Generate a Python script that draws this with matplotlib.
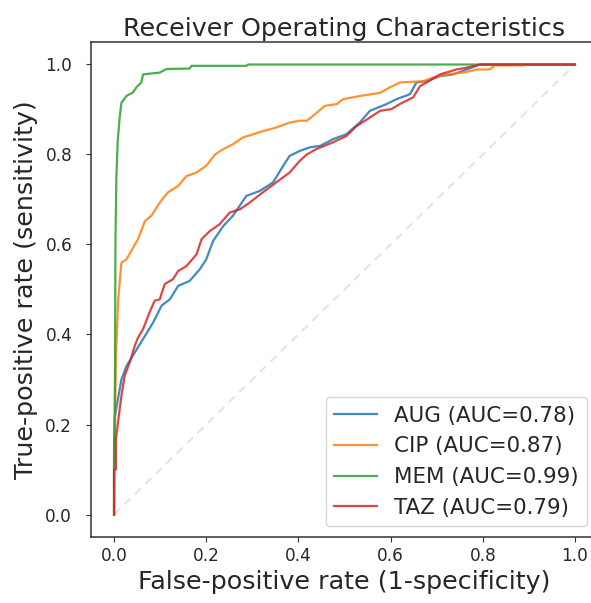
import matplotlib
matplotlib.use('Agg')
import matplotlib.pyplot as plt

# ROC points (false-positive rate, true-positive rate)
aug_fpr = [0.0, 0.0, 0.002, 0.016, 0.027, 0.045, 0.063, 0.085, 0.103, 0.121, 0.139, 0.164,
           0.186, 0.2, 0.215, 0.237, 0.258, 0.287, 0.316, 0.345, 0.367, 0.381, 0.403, 0.425,
           0.447, 0.475, 0.504, 0.533, 0.555, 0.591, 0.613, 0.642, 0.656, 0.678, 0.707, 0.736,
           0.765, 0.794, 1.0]
aug_tpr = [0.0, 0.15, 0.219, 0.30, 0.33, 0.36, 0.39, 0.427, 0.464, 0.478, 0.508, 0.519,
           0.545, 0.567, 0.608, 0.641, 0.664, 0.708, 0.719, 0.738, 0.775, 0.797, 0.808, 0.816,
           0.819, 0.834, 0.845, 0.871, 0.897, 0.912, 0.923, 0.934, 0.96, 0.963, 0.974, 0.978,
           0.989, 1.0, 1.0]

cip_fpr = [0.0, 0.002, 0.004, 0.005, 0.009, 0.016, 0.027, 0.052, 0.067, 0.081, 0.099, 0.117,
           0.139, 0.157, 0.179, 0.2, 0.219, 0.237, 0.258, 0.28, 0.302, 0.323, 0.352, 0.381,
           0.403, 0.418, 0.432, 0.457, 0.483, 0.497, 0.533, 0.577, 0.598, 0.62, 0.671, 0.692,
           0.721, 0.758, 0.787, 0.815, 0.826, 0.887, 0.895, 1.0]
cip_tpr = [0.0, 0.2, 0.35, 0.375, 0.478, 0.56, 0.567, 0.612, 0.652, 0.664, 0.693, 0.716,
           0.73, 0.752, 0.76, 0.775, 0.80, 0.812, 0.823, 0.838, 0.845, 0.852, 0.86, 0.871,
           0.875, 0.875, 0.886, 0.908, 0.912, 0.923, 0.93, 0.937, 0.949, 0.96, 0.963, 0.971,
           0.978, 0.982, 0.989, 0.989, 0.998, 0.998, 1.0, 1.0]

mem_fpr = [0.0, 0.0, 0.002, 0.003, 0.005, 0.008, 0.012, 0.016, 0.027, 0.041, 0.049, 0.059,
           0.063, 0.099, 0.114, 0.164, 0.168, 0.287, 0.291, 1.0]
mem_tpr = [0.0, 0.1, 0.3, 0.6, 0.75, 0.83, 0.88, 0.915, 0.93, 0.938, 0.95, 0.96,
           0.978, 0.982, 0.99, 0.991, 0.997, 0.997, 1.0, 1.0]

taz_fpr = [0.0, 0.0, 0.004, 0.004, 0.009, 0.016, 0.023, 0.034, 0.045, 0.052, 0.063, 0.077,
           0.088, 0.099, 0.11, 0.128, 0.139, 0.157, 0.179, 0.19, 0.208, 0.229, 0.251, 0.273,
           0.294, 0.323, 0.352, 0.381, 0.403, 0.418, 0.439, 0.475, 0.504, 0.526, 0.555, 0.577,
           0.602, 0.62, 0.649, 0.664, 0.678, 0.707, 0.743, 0.765, 0.794, 1.0]
taz_tpr = [0.0, 0.1, 0.1, 0.167, 0.208, 0.264, 0.308, 0.338, 0.375, 0.393, 0.412, 0.449,
           0.475, 0.478, 0.512, 0.523, 0.541, 0.552, 0.578, 0.612, 0.63, 0.645, 0.671, 0.678,
           0.693, 0.716, 0.738, 0.76, 0.786, 0.80, 0.812, 0.827, 0.841, 0.863, 0.882, 0.897,
           0.901, 0.912, 0.927, 0.952, 0.96, 0.978, 0.989, 0.993, 1.0, 1.0]

drugs = ['AUG', 'CIP', 'MEM', 'TAZ']
aucs = [0.78, 0.87, 0.99, 0.79]
curves = [(aug_fpr, aug_tpr), (cip_fpr, cip_tpr), (mem_fpr, mem_tpr), (taz_fpr, taz_tpr)]

fig = plt.figure(figsize=(5.91, 6.03), dpi=100)
ax = fig.add_axes([91 / 591, 66 / 603, 507 / 591, 495 / 603])

# chance line
ax.plot([0, 1], [0, 1], linestyle='--', color='lightgray', alpha=0.6, lw=1.5, dashes=(4, 3))

for name, auc, (fpr, tpr) in zip(drugs, aucs, curves):
    ax.plot(fpr, tpr, lw=1.6, alpha=0.85, label=f'{name} (AUC={auc:.2f})')

ax.set_xlim(-0.05, 1.05)
ax.set_ylim(-0.05, 1.05)
ax.set_xticks([0, 0.2, 0.4, 0.6, 0.8, 1.0])
ax.set_yticks([0, 0.2, 0.4, 0.6, 0.8, 1.0])
ax.tick_params(labelsize=12.2, colors='#333333', labelcolor='#262626')
ax.tick_params(axis='y', pad=10)
for s in ax.spines.values():
    s.set_color('#333333')
    s.set_linewidth(1.1)

ax.set_xlabel('False-positive rate (1-specificity)', fontsize=18.3, color='#262626')
ax.set_ylabel('True-positive rate (sensitivity)', fontsize=18.3, color='#262626', labelpad=5)
ax.set_title('Receiver Operating Characteristics', fontsize=18.3, color='#262626', pad=4)
leg = ax.legend(loc='lower right', fontsize=15.4)
for t in leg.get_texts():
    t.set_color('#262626')

fig.savefig('out.png', dpi=100)
